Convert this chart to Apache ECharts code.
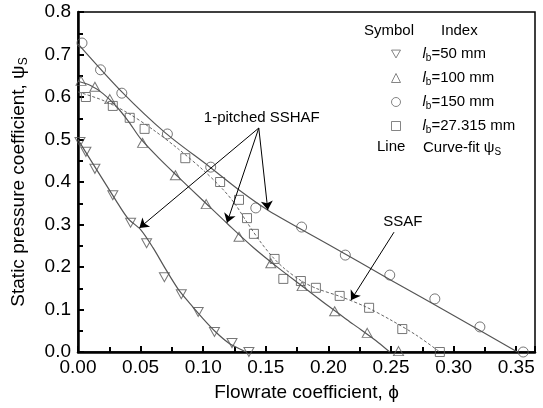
<!DOCTYPE html>
<html lang="en">
<head>
    <meta charset="UTF-8">
    <title>Static pressure coefficient</title>
</head>
<body style="margin:0">
<div id="main" style="width:543px;height:408px"></div>
<script src="https://cdn.jsdelivr.net/npm/echarts@6/dist/echarts.min.js"></script>
<script>
    // measured points [phi, psi_s]
    var lb50 = [[0.0016, 0.494], [0.0063, 0.471], [0.0135, 0.431], [0.0278, 0.369], [0.042, 0.304], [0.0548, 0.256],
        [0.069, 0.176], [0.0825, 0.136], [0.096, 0.094], [0.109, 0.047], [0.123, 0.021], [0.1365, 0.0]];
    var lb100 = [[0.0024, 0.638], [0.0135, 0.624], [0.0254, 0.595], [0.0516, 0.492], [0.0778, 0.416], [0.1024, 0.348],
        [0.1286, 0.271], [0.154, 0.209], [0.179, 0.155], [0.205, 0.096], [0.231, 0.045], [0.256, 0.002]];
    var lb150 = [[0.0032, 0.727], [0.018, 0.664], [0.035, 0.609], [0.0714, 0.513], [0.106, 0.435], [0.142, 0.339],
        [0.1786, 0.294], [0.2135, 0.228], [0.249, 0.181], [0.285, 0.125], [0.321, 0.059], [0.3556, 0.0]];
    var lb27 = [[0.0063, 0.600], [0.0278, 0.579], [0.0413, 0.551], [0.0532, 0.525], [0.0857, 0.456], [0.1135, 0.400],
        [0.1286, 0.358], [0.135, 0.315], [0.1405, 0.278], [0.157, 0.219], [0.164, 0.172], [0.178, 0.167],
        [0.190, 0.151], [0.209, 0.132], [0.2325, 0.104], [0.259, 0.054], [0.289, 0.0]];

    // curve-fit lines
    var fit50 = [[0, 0.5], [0.01, 0.452], [0.02, 0.405], [0.03, 0.358], [0.04, 0.314], [0.05, 0.288], [0.06, 0.245],
        [0.07, 0.195], [0.08, 0.148], [0.09, 0.112], [0.1, 0.078], [0.11, 0.047], [0.12, 0.022], [0.134, 0]];
    var fit100 = [[0, 0.637], [0.01, 0.627], [0.02, 0.608], [0.03, 0.58], [0.04, 0.544], [0.05, 0.502], [0.065, 0.455],
        [0.08, 0.412], [0.1, 0.356], [0.12, 0.3], [0.14, 0.246], [0.16, 0.198], [0.18, 0.153], [0.2, 0.108],
        [0.22, 0.065], [0.24, 0.022], [0.249, 0]];
    var fit150 = [[0, 0.725], [0.035, 0.612], [0.07, 0.515], [0.105, 0.436], [0.13, 0.378], [0.152, 0.333],
        [0.2, 0.253], [0.25, 0.169], [0.3, 0.086], [0.351, 0]];
    var fit27 = [[0, 0.612], [0.02, 0.592], [0.04, 0.562], [0.06, 0.523], [0.08, 0.478], [0.1, 0.428], [0.115, 0.385],
        [0.125, 0.35], [0.135, 0.305], [0.145, 0.262], [0.155, 0.225], [0.165, 0.196], [0.178, 0.168], [0.19, 0.15],
        [0.21, 0.13], [0.23, 0.106], [0.25, 0.075], [0.27, 0.04], [0.289, 0]];

    var seriesNames = ['lb50', 'lb100', 'lb150', 'lb27'];
    var legendText = ['=50 mm', '=100 mm', '=150 mm', '=27.315 mm'];

    var xTicks = [0, 0.05, 0.1, 0.15, 0.2, 0.25, 0.3, 0.35];

    var FONT = 'Liberation Sans, Arial, DejaVu Sans, sans-serif';
    var downTri = 'path://M0,0L10,0L5,8.7Z';
    var markStyle = {color: 'transparent', borderColor: '#555', borderWidth: 1};

    var myChart = echarts.init(document.getElementById('main'));

    function scatter(name, data, symbol, size) {
        return {
            name: name, type: 'scatter', data: data, symbol: symbol, symbolSize: size,
            itemStyle: markStyle, z: 3
        };
    }
    function fitLine(data, dashed) {
        return {
            type: 'line', data: data, symbol: 'none', smooth: 0.3, silent: true,
            lineStyle: {color: dashed ? '#666' : '#555', width: dashed ? 1 : 1.2, type: dashed ? [3, 2] : 'solid'}
        };
    }

    var option = {
        animation: false,
        backgroundColor: '#fff',
        textStyle: {fontFamily: FONT},
        grid: {left: 75, right: 8, top: 12, bottom: 56, show: true, borderColor: '#000', borderWidth: 1.5},
        legend: {
            orient: 'vertical', left: 386, top: 40, itemWidth: 9, itemHeight: 9, itemGap: 6,
            data: [
                {name: 'lb50', icon: downTri},
                {name: 'lb100', icon: 'triangle'},
                {name: 'lb150', icon: 'circle'},
                {name: 'lb27', icon: 'rect'}
            ],
            itemStyle: {color: 'transparent', borderColor: '#666', borderWidth: 1},
            formatter: function (name) {
                return '{i|l}{s|b}{t|' + legendText[seriesNames.indexOf(name)] + '}';
            },
            textStyle: {
                padding: [0, 0, 0, 17],
                rich: {
                    i: {fontSize: 15, fontStyle: 'italic', fontFamily: FONT, color: '#000', lineHeight: 18},
                    s: {fontSize: 10, fontFamily: FONT, color: '#000', padding: [8, 0, 0, 0], lineHeight: 10},
                    t: {fontSize: 15, fontFamily: FONT, color: '#000', lineHeight: 18}
                }
            }
        },
        graphic: [
            {type: 'text', left: 364, top: 23, style: {text: 'Symbol', font: '15px ' + FONT, fill: '#000'}},
            {type: 'text', left: 441, top: 23, style: {text: 'Index', font: '15px ' + FONT, fill: '#000'}},
            {type: 'text', left: 377, top: 139, style: {text: 'Line', font: '15px ' + FONT, fill: '#000'}},
            {
                type: 'text', left: 423, top: 139, style: {
                    text: '{t|Curve-fit ψ}{s|S}', fill: '#000',
                    rich: {t: {fontSize: 15, fontFamily: FONT, lineHeight: 18},
                        s: {fontSize: 10, fontFamily: FONT, padding: [8, 0, 0, 0], lineHeight: 10}}
                }
            }
        ],
        xAxis: {
            type: 'value', min: 0, max: 0.365, interval: 0.05,
            name: 'Flowrate coefficient, ϕ', nameLocation: 'middle', nameGap: 31,
            nameTextStyle: {fontSize: 19, color: '#000', fontFamily: FONT},
            axisLine: {show: true, lineStyle: {color: '#000', width: 2.5}},
            axisTick: {inside: true, length: 6, lineStyle: {color: '#000', width: 2}},
            minorTick: {show: true, splitNumber: 2, length: 5, lineStyle: {color: '#000', width: 2}},
            splitLine: {show: false},
            axisLabel: {
                fontSize: 19, color: '#000', margin: 6, showMaxLabel: false,
                formatter: function (v) {
                    return xTicks.some(function (t) { return Math.abs(t - v) < 1e-6; }) ? v.toFixed(2) : '';
                }
            }
        },
        yAxis: {
            type: 'value', min: 0, max: 0.8, interval: 0.1,
            name: '{t|Static pressure coefficient, ψ}{s|S}', nameLocation: 'middle', nameGap: 48, nameRotate: 90,
            nameTextStyle: {
                color: '#000',
                rich: {t: {fontSize: 19, fontFamily: FONT, lineHeight: 22},
                    s: {fontSize: 12, fontFamily: FONT, padding: [10, 0, 0, 0], lineHeight: 12}}
            },
            axisLine: {show: true, lineStyle: {color: '#000', width: 2.5}},
            axisTick: {inside: true, length: 6, lineStyle: {color: '#000', width: 2}},
            minorTick: {show: true, splitNumber: 2, length: 5, lineStyle: {color: '#000', width: 2}},
            splitLine: {show: false},
            axisLabel: {fontSize: 19, color: '#000', margin: 7, formatter: function (v) { return v.toFixed(1); }}
        },
        series: [
            scatter('lb50', lb50, downTri, [10, 9]),
            scatter('lb100', lb100, 'triangle', [10, 9]),
            scatter('lb150', lb150, 'circle', 10),
            scatter('lb27', lb27, 'rect', 9),
            fitLine(fit50, false),
            fitLine(fit100, false),
            fitLine(fit150, false),
            fitLine(fit27, true),
            {
                type: 'line', data: [], silent: true,
                markLine: {
                    silent: true, symbol: ['none', 'arrow'], symbolSize: 9, label: {show: false},
                    lineStyle: {color: '#000', width: 1, type: 'solid'},
                    itemStyle: {color: '#000'},
                    data: [
                        [{coord: [0.1444, 0.527]}, {coord: [0.049, 0.292]}],
                        [{coord: [0.1444, 0.527]}, {coord: [0.119, 0.304]}],
                        [{coord: [0.1444, 0.527]}, {coord: [0.1516, 0.334]}],
                        [{coord: [0.2524, 0.282]}, {coord: [0.218, 0.122]}]
                    ]
                },
                markPoint: {
                    silent: true, symbol: 'circle', symbolSize: 1, itemStyle: {color: 'transparent'},
                    label: {show: true, position: 'inside', color: '#000', fontSize: 15, fontFamily: FONT},
                    data: [
                        {coord: [0.1468, 0.551], label: {formatter: '1-pitched SSHAF'}},
                        {coord: [0.2595, 0.306], label: {formatter: 'SSAF'}}
                    ]
                }
            }
        ]
    };
    myChart.setOption(option);
</script>
</body>
</html>
